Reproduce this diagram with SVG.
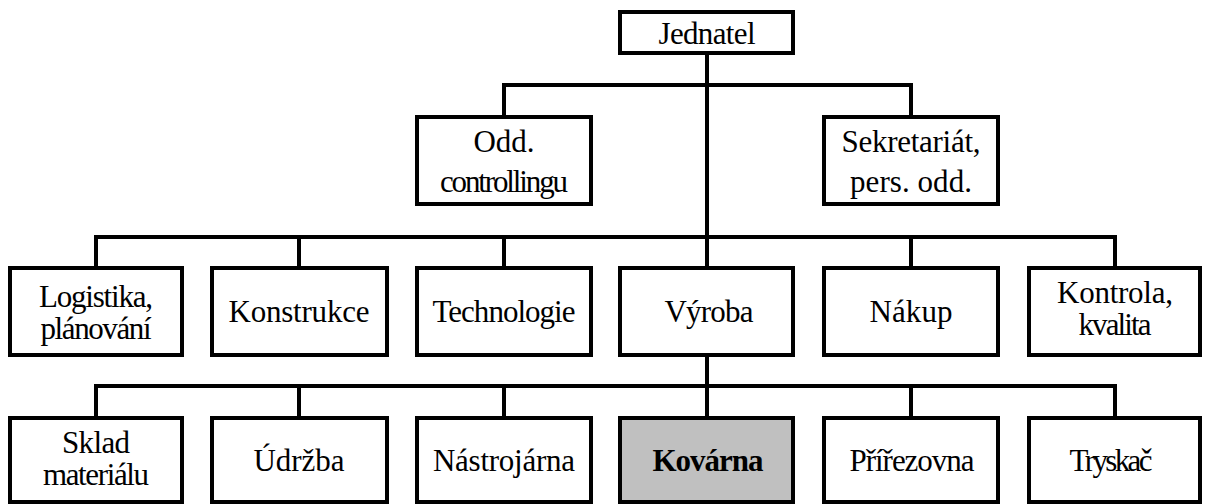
<svg xmlns="http://www.w3.org/2000/svg" width="1206" height="504" viewBox="0 0 1206 504">
<style>
.box{fill:#fff;stroke:#000;stroke-width:4}
.hl{fill:#c0c0c0;stroke:#000;stroke-width:4}
text{font-family:'Liberation Serif','Times New Roman',serif;font-size:31px;fill:#000;text-anchor:middle}
.b{font-weight:bold}
.c{fill:none;stroke:#000;stroke-width:4;stroke-linejoin:miter}
</style>
<rect width="1206" height="504" fill="#fff"/>
<g id="connectors">
<path class="c" d="M707 53V268"/>
<path class="c" d="M504 117V85H911V117"/>
<path class="c" d="M96 268V237H1115V268"/>
<path class="c" d="M299 237V268M504 237V268M911 237V268"/>
<path class="c" d="M707 355V418"/>
<path class="c" d="M96 418V386H1115V418"/>
<path class="c" d="M299 386V418M504 386V418M911 386V418"/>
</g>
<g id="jednatel"><rect class="box" x="620" y="12" width="173" height="41"/><text x="707" y="44" textLength="97" lengthAdjust="spacing">Jednatel</text></g>
<g id="odd-controllingu"><rect class="box" x="417" y="117" width="174" height="87"/><text x="504" y="152">Odd.</text><text x="504" y="192" textLength="128" lengthAdjust="spacing">controllingu</text></g>
<g id="sekretariat"><rect class="box" x="824" y="117" width="174" height="87"/><text x="911" y="152" textLength="139" lengthAdjust="spacing">Sekretariát,</text><text x="911" y="192" textLength="122" lengthAdjust="spacing">pers. odd.</text></g>
<g id="logistika"><rect class="box" x="10" y="268" width="172" height="87"/><text x="96" y="307" textLength="114" lengthAdjust="spacing">Logistika,</text><text x="96" y="339" textLength="111" lengthAdjust="spacing">plánování</text></g>
<g id="konstrukce"><rect class="box" x="212" y="268" width="175" height="87"/><text x="299" y="322" textLength="141" lengthAdjust="spacing">Konstrukce</text></g>
<g id="technologie"><rect class="box" x="417" y="268" width="174" height="87"/><text x="504" y="322" textLength="143" lengthAdjust="spacing">Technologie</text></g>
<g id="vyroba"><rect class="box" x="620" y="268" width="173" height="87"/><text x="709" y="322" textLength="89" lengthAdjust="spacing">Výroba</text></g>
<g id="nakup"><rect class="box" x="824" y="268" width="174" height="87"/><text x="911" y="322" textLength="83" lengthAdjust="spacing">Nákup</text></g>
<g id="kontrola"><rect class="box" x="1029" y="268" width="171" height="87"/><text x="1115" y="303" textLength="116" lengthAdjust="spacing">Kontrola,</text><text x="1115" y="335" textLength="73" lengthAdjust="spacing">kvalita</text></g>
<g id="sklad"><rect class="box" x="10" y="418" width="172" height="84"/><text x="96" y="453" textLength="68" lengthAdjust="spacing">Sklad</text><text x="96" y="485" textLength="106" lengthAdjust="spacing">materiálu</text></g>
<g id="udrzba"><rect class="box" x="212" y="418" width="175" height="84"/><text x="299" y="471">Údržba</text></g>
<g id="nastrojarna"><rect class="box" x="417" y="418" width="174" height="84"/><text x="504" y="471" textLength="142" lengthAdjust="spacing">Nástrojárna</text></g>
<g id="kovarna"><rect class="hl" x="620" y="418" width="173" height="84"/><text class="b" x="708" y="471" textLength="111" lengthAdjust="spacing">Kovárna</text></g>
<g id="prirezovna"><rect class="box" x="824" y="418" width="174" height="84"/><text x="912" y="471" textLength="125" lengthAdjust="spacing">Přířezovna</text></g>
<g id="tryskac"><rect class="box" x="1029" y="418" width="171" height="84"/><text x="1111" y="471" textLength="83" lengthAdjust="spacing">Tryskač</text></g>
</svg>
